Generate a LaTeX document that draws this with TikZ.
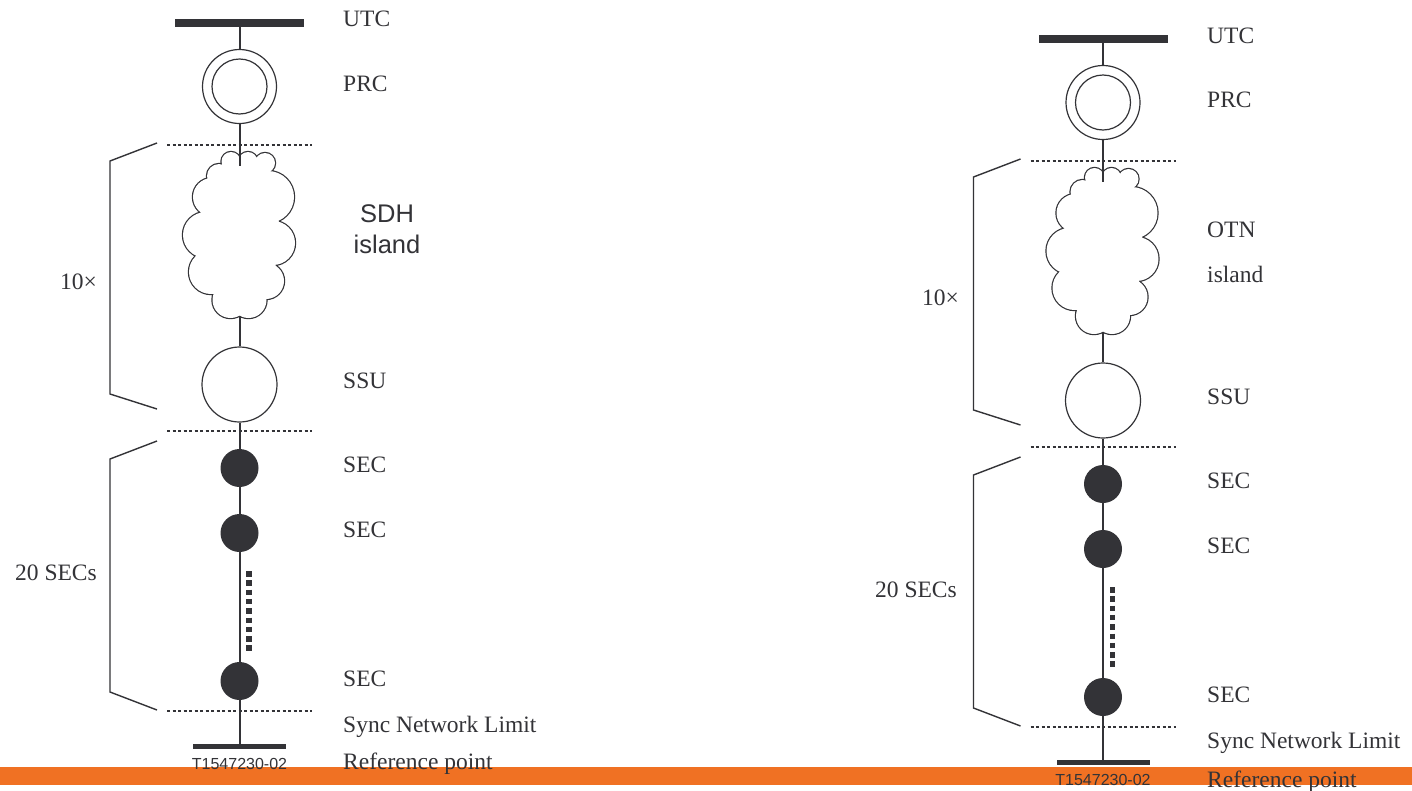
\documentclass[tikz,border=0pt]{standalone}
\usepackage{fontspec}
\setmainfont{Liberation Serif}
\newfontfamily\sansf{Liberation Sans}
\definecolor{ink}{RGB}{51,51,55}
\definecolor{orangebar}{RGB}{240,113,35}

% cloud made of overlapping circles: strokes first, then white fills
\newcommand\cloudcircles{%
  (231,161.5) circle[radius=9.5]
  (248,161.5) circle[radius=9.5]
  (265,163) circle[radius=10]
  (219,176) circle[radius=12]
  (212,197) circle[radius=19]
  (206,235) circle[radius=23]
  (211,272) circle[radius=22]
  (230.5,300) circle[radius=18]
  (248.5,300) circle[radius=18]
  (266,281) circle[radius=18]
  (273,243) circle[radius=22]
  (268,197) circle[radius=26]
  (239.5,235) ellipse[x radius=40, y radius=70]}
\newcommand\cloudfiller{%
  (231,166) -- (248,166) -- (265,168) -- (268,176) -- (240,200) -- (215,176) -- cycle}

\newcommand\syncchain[1]{%
  \node[busbar, minimum width=129pt, minimum height=8pt] (#1utc) at (239.5,23) {};
  \node[ring, minimum size=74pt] (#1prc) at (239.5,86.5) {};
  \node[ring, minimum size=55pt] (#1prcin) at (239.5,86.5) {};
  \draw[ink, line width=2.4pt] \cloudcircles;
  \fill[white] \cloudcircles;
  \fill[white] \cloudfiller;
  \coordinate (#1ctop) at (239.5,165.5);
  \coordinate (#1cbot) at (239.5,315.6);
  \node[ring, minimum size=75pt] (#1ssu) at (239.5,384.5) {};
  \node[sec] (#1sec1) at (239.5,468) {};
  \node[sec] (#1sec2) at (239.5,533) {};
  \node[sec] (#1sec3) at (239.5,681) {};
  \node[busbar, minimum width=93pt, minimum height=5pt] (#1ref) at (239.5,746.5) {};
  \draw[link] (#1utc.south) -- (#1prc.north);
  \draw[link] (#1prc.south) -- (#1ctop);
  \draw[link] (#1cbot) -- (#1ssu.north);
  \draw[link] (#1ssu.south) -- (#1sec1.north);
  \draw[link] (#1sec1.south) -- (#1sec2.north);
  \draw[link] (#1sec2.south) -- (#1sec3.north);
  \draw[link] (#1sec3.south) -- (#1ref.north);
  \draw[dotline] (167,145) -- (312,145);
  \draw[dotline] (167,431) -- (312,431);
  \draw[dotline] (167,711) -- (312,711);
  \draw[ellipsisline] (249,571) -- (249,652);
  \draw[brace] (157,143) -- (110,161) -- (110,394) -- (157,409);
  \draw[brace] (157,441) -- (110,459) -- (110,692) -- (157,710);
}

\begin{document}
\begin{tikzpicture}[x=1pt,y=-1pt,
  lbl/.style={font=\fontsize{23.5}{28}\selectfont, text=ink, anchor=base west, inner sep=0pt},
  lblr/.style={lbl, anchor=base east},
  sanslbl/.style={font=\sansf\fontsize{25.5}{30}\selectfont, text=ink, anchor=base, inner sep=0pt},
  code/.style={font=\sansf\fontsize{16}{19}\selectfont, text=ink, anchor=base, inner sep=0pt},
  link/.style={draw=ink, line width=2pt},
  ring/.style={circle, draw=ink, line width=1.2pt, inner sep=0pt, fill=white},
  sec/.style={circle, fill=ink, inner sep=0pt, minimum size=38pt},
  busbar/.style={rectangle, fill=ink, inner sep=0pt},
  dotline/.style={draw=ink, line width=1.7pt, dash pattern=on 3.2pt off 2.3pt},
  ellipsisline/.style={draw=ink, line width=5.5pt, dash pattern=on 5.5pt off 3.8pt},
  brace/.style={draw=ink, line width=1.4pt, line join=miter},
]
\useasboundingbox (0,0) rectangle (1412,790);
\fill[white] (0,0) rectangle (1412,790);
\fill[orangebar] (0,767) rectangle (1412,785);

\begin{scope}
  \syncchain{L}
\end{scope}
\begin{scope}[shift={(863.5,16)}]
  \syncchain{R}
\end{scope}

% left labels
\node[lbl] (Lutct) at (343,26) {UTC};
\node[lbl] (Lprct) at (343,91) {PRC};
\node[sanslbl] (Lsdh) at (387,222) {SDH};
\node[sanslbl] (Lisl) at (387,253) {island};
\node[lbl] (Lssut) at (343,388) {SSU};
\node[lbl] (Lsec1t) at (343,472) {SEC};
\node[lbl] (Lsec2t) at (343,537) {SEC};
\node[lbl] (Lsec3t) at (343,686) {SEC};
\node[lbl] (Lsync) at (343,732) {Sync Network Limit};
\node[lbl] (Lreft) at (343,769) {Reference point};
\node[lblr] (Lten) at (97,289) {10×};
\node[lblr] (Ltwenty) at (97,580) {20 SECs};
\node[code] (Lcode) at (239.5,769) {T1547230-02};

% right labels
\node[lbl] (Rutct) at (1207,43) {UTC};
\node[lbl] (Rprct) at (1207,107) {PRC};
\node[lbl] (Rotn) at (1207,237) {OTN};
\node[lbl] (Risl) at (1207,282) {island};
\node[lbl] (Rssut) at (1207,404) {SSU};
\node[lbl] (Rsec1t) at (1207,488) {SEC};
\node[lbl] (Rsec2t) at (1207,553) {SEC};
\node[lbl] (Rsec3t) at (1207,702) {SEC};
\node[lbl] (Rsync) at (1207,748) {Sync Network Limit};
\node[lbl] (Rreft) at (1207,787) {Reference point};
\node[lblr] (Rten) at (959,305) {10×};
\node[lblr] (Rtwenty) at (957,597) {20 SECs};
\node[code] (Rcode) at (1103,785) {T1547230-02};
\end{tikzpicture}
\end{document}
